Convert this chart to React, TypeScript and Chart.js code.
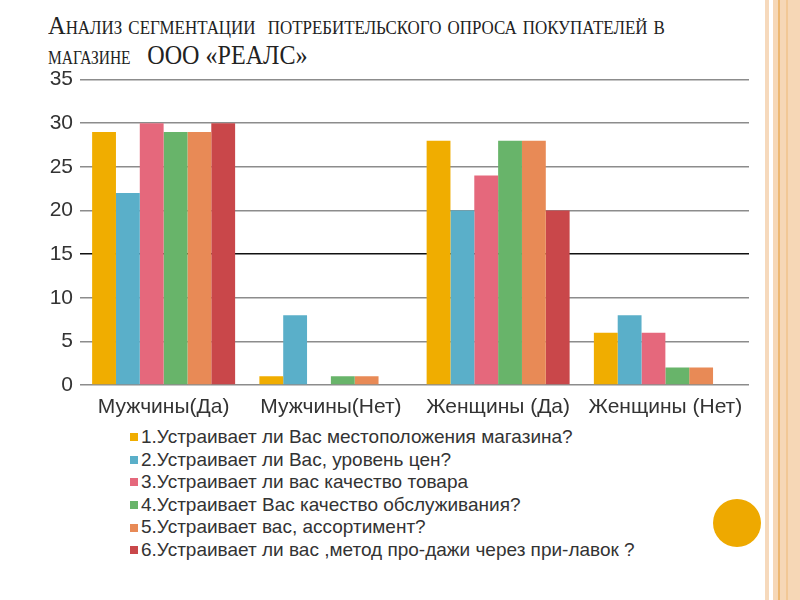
import { useEffect, useRef } from 'react';
import Chart from 'chart.js/auto';

const categories = ['Мужчины(Да)', 'Мужчины(Нет)', 'Женщины (Да)', 'Женщины (Нет)'];

const seriesNames = [
  '1.Устраивает ли Вас местоположения магазина?',
  '2.Устраивает ли Вас, уровень цен?',
  '3.Устраивает ли вас качество товара',
  '4.Устраивает Вас качество обслуживания?',
  '5.Устраивает вас, ассортимент?',
  '6.Устраивает ли вас ,метод про-дажи через при-лавок ?',
];

const location = [29, 1, 28, 6];
const price = [22, 8, 20, 8];
const goodsQuality = [30, 0, 24, 6];
const serviceQuality = [29, 1, 28, 2];
const assortment = [29, 1, 28, 2];
const counterSales = [30, 0, 20, 0];

const seriesValues = [location, price, goodsQuality, serviceQuality, assortment, counterSales];

const colors = ['#F0AD00', '#5AAFC9', '#E5687C', '#68B46A', '#E88A56', '#C9474A'];

const yTicks = [0, 5, 10, 15, 20, 25, 30, 35];

function SurveyChart() {
  const canvasRef = useRef<HTMLCanvasElement>(null);
  const chartRef = useRef<Chart | null>(null);

  useEffect(() => {
    if (!canvasRef.current) return;
    if (chartRef.current) chartRef.current.destroy();

    const ctx = canvasRef.current.getContext('2d');
    if (!ctx) return;

    chartRef.current = new Chart(ctx, {
      type: 'bar',
      data: {
        labels: categories,
        datasets: seriesValues.map((values, i) => ({
          label: seriesNames[i],
          data: values,
          backgroundColor: colors[i],
          borderWidth: 0,
          barPercentage: 1,
          categoryPercentage: 0.855,
        })),
      },
      options: {
        animation: false,
        responsive: true,
        maintainAspectRatio: false,
        plugins: {
          legend: { display: false },
          tooltip: { enabled: false },
        },
        layout: {
          padding: { top: 15, right: 11, bottom: 0, left: 0 },
        },
        scales: {
          x: {
            grid: { display: false },
            border: { display: false },
            ticks: {
              color: '#333',
              padding: 2,
              font: { size: 21, family: 'Liberation Sans, Arial, sans-serif' },
            },
            afterFit: (scale: any) => {
              scale.height = 40;
            },
          },
          y: {
            min: 0,
            max: yTicks[yTicks.length - 1],
            afterBuildTicks: (scale: any) => {
              scale.ticks = yTicks.map((v) => ({ value: v }));
            },
            border: { display: false },
            grid: {
              drawTicks: false,
              lineWidth: 1.6,
              color: (c: any) => (c.tick && c.tick.value === 15 ? '#111' : '#8c8c8c'),
            },
            ticks: {
              color: '#333',
              padding: 7,
              font: { size: 21, family: 'Liberation Sans Narrow, Arial Narrow, Liberation Sans, sans-serif' },
            },
            afterFit: (scale: any) => {
              scale.width = 80;
            },
          },
        },
      },
    });

    return () => {
      if (chartRef.current) {
        chartRef.current.destroy();
        chartRef.current = null;
      }
    };
  }, []);

  return <canvas ref={canvasRef} />;
}

export default function App() {
  const titleLine = {
    whiteSpace: 'nowrap' as const,
    transformOrigin: 'left top',
    height: 29,
  };

  return (
    <div
      style={{
        position: 'absolute',
        left: 0,
        top: 0,
        width: 800,
        height: 600,
        background: '#fff',
        overflow: 'hidden',
      }}
    >
      {/* slide border on the right */}
      <div style={{ position: 'absolute', left: 765, top: 0, width: 4, height: 600, background: '#F6D9BC' }} />
      <div style={{ position: 'absolute', left: 773, top: 0, width: 27, height: 600, background: '#F6D7B6' }} />
      <div style={{ position: 'absolute', left: 778, top: 0, width: 2, height: 600, background: '#EDB770' }} />
      <div style={{ position: 'absolute', left: 786, top: 0, width: 2, height: 600, background: '#F2C896' }} />
      <div
        style={{
          position: 'absolute',
          left: 713,
          top: 499,
          width: 48,
          height: 48,
          borderRadius: '50%',
          background: '#EEA900',
        }}
      />

      {/* title */}
      <div
        style={{
          position: 'absolute',
          left: 48,
          top: 11,
          fontFamily: 'Liberation Serif, Times New Roman, serif',
          fontVariant: 'small-caps',
          fontSize: 26,
          lineHeight: '29px',
          color: '#222',
        }}
      >
        <div style={{ ...titleLine, transform: 'scaleX(0.94)' }}>
          Анализ сегментации&nbsp; потребительского опроса покупателей в
        </div>
        <div style={{ ...titleLine, transform: 'scaleX(0.86)' }}>
          магазине&nbsp;&nbsp; <span style={{ fontSize: 28 }}>ООО «РЕАЛС»</span>
        </div>
      </div>

      {/* chart */}
      <div style={{ position: 'absolute', left: 0, top: 60, width: 760, height: 365 }}>
        <SurveyChart />
      </div>

      {/* legend */}
      <div
        style={{
          position: 'absolute',
          left: 130,
          top: 426,
          fontFamily: 'Liberation Sans, Arial, sans-serif',
          fontSize: 19,
          lineHeight: '22.6px',
          color: '#333',
          whiteSpace: 'nowrap',
        }}
      >
        {seriesNames.map((name, i) => (
          <div key={name} style={{ display: 'flex', alignItems: 'center' }}>
            <span
              style={{
                display: 'inline-block',
                width: 8,
                height: 8,
                background: colors[i],
                marginRight: 3,
              }}
            />
            <span>{name}</span>
          </div>
        ))}
      </div>
    </div>
  );
}
